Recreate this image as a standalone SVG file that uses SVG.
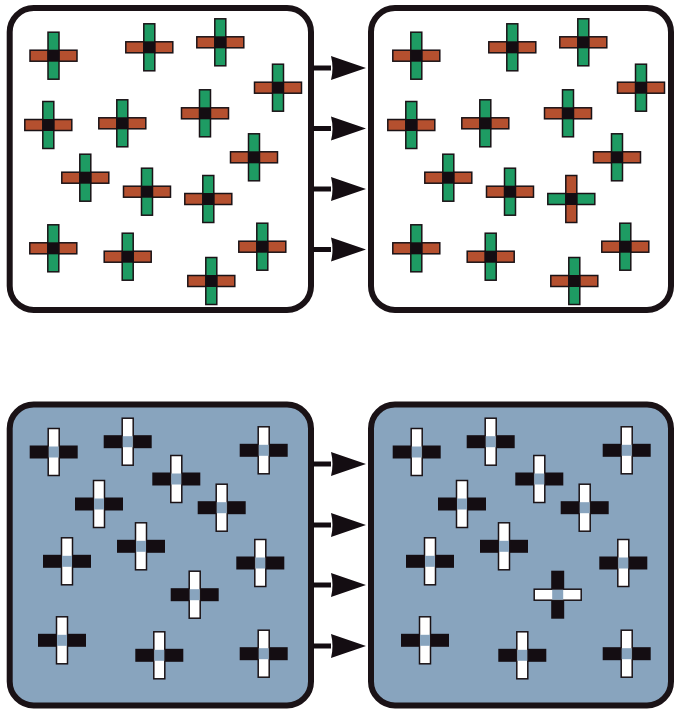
<svg xmlns="http://www.w3.org/2000/svg" xmlns:xlink="http://www.w3.org/1999/xlink" width="674" height="710" viewBox="0 0 674 710">
<style>
.box{stroke:#1a1216;stroke-width:6}
.top{fill:#ffffff}
.bot{fill:#88a4be}
.ob{fill:#b5502f;stroke:#1a1216;stroke-width:1.5}
.gb{fill:#1e9b63;stroke:#1a1216;stroke-width:1.5}
.wb{fill:#ffffff;stroke:#1a1216;stroke-width:1.5}
.kb{fill:#140d12}
.kc{fill:#140d12}
.bc{fill:#88a4be}
.conn{stroke:#140d12;stroke-width:5;fill:none}
</style>
<defs>
<marker id="ah" markerUnits="userSpaceOnUse" markerWidth="36" markerHeight="26" refX="0" refY="12" orient="auto" viewBox="0 0 36 24">
<path d="M0,0 L35,12 L0,24 Q3,12 0,0 Z" fill="#140d12"/>
</marker>
<g id="cA">
<rect class="ob" x="-23.5" y="-5.5" width="47" height="11"/>
<rect class="gb" x="-5.5" y="-23.5" width="11" height="47"/>
<rect class="kc" x="-6" y="-6" width="12" height="12"/>
</g>
<g id="cB">
<rect class="gb" x="-23.5" y="-5.5" width="47" height="11"/>
<rect class="ob" x="-5.5" y="-23.5" width="11" height="47"/>
<rect class="kc" x="-6" y="-6" width="12" height="12"/>
</g>
<g id="cC">
<rect class="kb" x="-24" y="-6.5" width="48" height="13"/>
<rect class="wb" x="-5.5" y="-23.5" width="11" height="47"/>
<rect class="bc" x="-5" y="-5.5" width="10" height="11"/>
</g>
<g id="cD">
<rect class="kb" x="-6.5" y="-24" width="13" height="48"/>
<rect class="wb" x="-23.5" y="-5.5" width="47" height="11"/>
<rect class="bc" x="-5.5" y="-5" width="11" height="10"/>
</g>
</defs>

<g id="box-top-left">
<rect class="box top" x="9.7" y="8" width="301.3" height="302" rx="24"/>
<g id="tl1" transform="translate(53.5,55.7)"><use href="#cA"/></g>
<g id="tl2" transform="translate(149.3,47.3)"><use href="#cA"/></g>
<g id="tl3" transform="translate(220.3,42.3)"><use href="#cA"/></g>
<g id="tl4" transform="translate(278,87.7)"><use href="#cA"/></g>
<g id="tl5" transform="translate(48.3,125)"><use href="#cA"/></g>
<g id="tl6" transform="translate(122.3,123.3)"><use href="#cA"/></g>
<g id="tl7" transform="translate(205,113.3)"><use href="#cA"/></g>
<g id="tl8" transform="translate(254,157.3)"><use href="#cA"/></g>
<g id="tl9" transform="translate(85.3,177.7)"><use href="#cA"/></g>
<g id="tl10" transform="translate(147,191.7)"><use href="#cA"/></g>
<g id="tl11" transform="translate(208.3,199)"><use href="#cA"/></g>
<g id="tl12" transform="translate(53.3,248.3)"><use href="#cA"/></g>
<g id="tl13" transform="translate(127.7,256.7)"><use href="#cA"/></g>
<g id="tl14" transform="translate(262.3,246.7)"><use href="#cA"/></g>
<g id="tl15" transform="translate(211.3,281)"><use href="#cA"/></g>
</g>

<g id="box-top-right">
<rect class="box top" x="371" y="8" width="300" height="302" rx="24"/>
<g id="tr1" transform="translate(416.3,55.7)"><use href="#cA"/></g>
<g id="tr2" transform="translate(512.3,47.3)"><use href="#cA"/></g>
<g id="tr3" transform="translate(583.3,42.3)"><use href="#cA"/></g>
<g id="tr4" transform="translate(641,87.7)"><use href="#cA"/></g>
<g id="tr5" transform="translate(411.3,125)"><use href="#cA"/></g>
<g id="tr6" transform="translate(485.3,123.3)"><use href="#cA"/></g>
<g id="tr7" transform="translate(568,113.3)"><use href="#cA"/></g>
<g id="tr8" transform="translate(617,157.3)"><use href="#cA"/></g>
<g id="tr9" transform="translate(448.3,177.7)"><use href="#cA"/></g>
<g id="tr10" transform="translate(510,191.7)"><use href="#cA"/></g>
<g id="tr11" transform="translate(571.3,199)"><use href="#cB"/></g>
<g id="tr12" transform="translate(416.3,248.3)"><use href="#cA"/></g>
<g id="tr13" transform="translate(490.7,256.7)"><use href="#cA"/></g>
<g id="tr14" transform="translate(625.3,246.7)"><use href="#cA"/></g>
<g id="tr15" transform="translate(574.3,281)"><use href="#cA"/></g>
</g>

<g id="box-bottom-left">
<rect class="box bot" x="9.7" y="404.5" width="301.3" height="301" rx="24"/>
<g id="bl1" transform="translate(53.7,452)"><use href="#cC"/></g>
<g id="bl2" transform="translate(127.7,441.7)"><use href="#cC"/></g>
<g id="bl3" transform="translate(176.3,479)"><use href="#cC"/></g>
<g id="bl4" transform="translate(263.7,450.3)"><use href="#cC"/></g>
<g id="bl5" transform="translate(99,504)"><use href="#cC"/></g>
<g id="bl6" transform="translate(221.7,507.7)"><use href="#cC"/></g>
<g id="bl7" transform="translate(141,546.3)"><use href="#cC"/></g>
<g id="bl8" transform="translate(67,561.3)"><use href="#cC"/></g>
<g id="bl9" transform="translate(260.3,563)"><use href="#cC"/></g>
<g id="bl10" transform="translate(194.7,594.7)"><use href="#cC"/></g>
<g id="bl11" transform="translate(62,640.3)"><use href="#cC"/></g>
<g id="bl12" transform="translate(159.3,655.3)"><use href="#cC"/></g>
<g id="bl13" transform="translate(263.7,653.7)"><use href="#cC"/></g>
</g>

<g id="box-bottom-right">
<rect class="box bot" x="371" y="404.5" width="300" height="301" rx="24"/>
<g id="br1" transform="translate(416.7,452)"><use href="#cC"/></g>
<g id="br2" transform="translate(490.7,441.7)"><use href="#cC"/></g>
<g id="br3" transform="translate(539.3,479)"><use href="#cC"/></g>
<g id="br4" transform="translate(626.7,450.3)"><use href="#cC"/></g>
<g id="br5" transform="translate(462,504)"><use href="#cC"/></g>
<g id="br6" transform="translate(584.7,507.7)"><use href="#cC"/></g>
<g id="br7" transform="translate(504,546.3)"><use href="#cC"/></g>
<g id="br8" transform="translate(430,561.3)"><use href="#cC"/></g>
<g id="br9" transform="translate(623.3,563)"><use href="#cC"/></g>
<g id="br10" transform="translate(557.7,594.7)"><use href="#cD"/></g>
<g id="br11" transform="translate(425,640.3)"><use href="#cC"/></g>
<g id="br12" transform="translate(522.3,655.3)"><use href="#cC"/></g>
<g id="br13" transform="translate(626.7,653.7)"><use href="#cC"/></g>
</g>

<g id="connectors">
<path class="conn" d="M313,68 H331" marker-end="url(#ah)"/>
<path class="conn" d="M313,128.5 H331" marker-end="url(#ah)"/>
<path class="conn" d="M313,189 H331" marker-end="url(#ah)"/>
<path class="conn" d="M313,249.5 H331" marker-end="url(#ah)"/>
<path class="conn" d="M313,464 H331" marker-end="url(#ah)"/>
<path class="conn" d="M313,525 H331" marker-end="url(#ah)"/>
<path class="conn" d="M313,585 H331" marker-end="url(#ah)"/>
<path class="conn" d="M313,646 H331" marker-end="url(#ah)"/>
</g>
</svg>
